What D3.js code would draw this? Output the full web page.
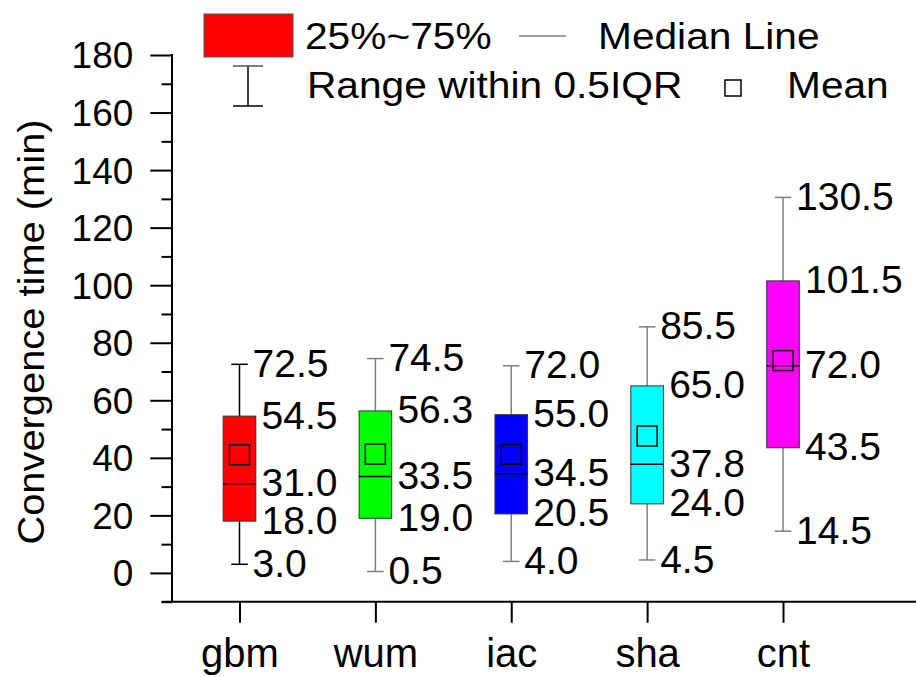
<!DOCTYPE html>
<html>
<head>
<meta charset="utf-8">
<script src="https://cdn.jsdelivr.net/npm/d3@7/dist/d3.min.js"></script>
<style>
  html, body { margin: 0; padding: 0; background: #fff; }
  svg { display: block; }
  text { font-family: "Liberation Sans", Arial, sans-serif; fill: #000; }
</style>
</head>
<body>
<svg id="chart" width="916" height="677"></svg>
<script>
// Convergence time per solution: box statistics (minutes)
const categories = ["gbm", "wum", "iac", "sha", "cnt"];
const mins    = [3.0, 0.5, 4.0, 4.5, 14.5];
const q1s     = [18.0, 19.0, 20.5, 24.0, 43.5];
const medians = [31.0, 33.5, 34.5, 37.8, 72.0];
const q3s     = [54.5, 56.3, 55.0, 65.0, 101.5];
const maxs    = [72.5, 74.5, 72.0, 85.5, 130.5];
const means   = [41.1, 41.3, 41.2, 47.6, 73.8];
const fills   = ["#ff0000", "#00ff00", "#0000ff", "#00ffff", "#ff00ff"];
const whiskerColors = ["#000000", "#808080", "#808080", "#808080", "#808080"];
const yMajorTicks = [0, 20, 40, 60, 80, 100, 120, 140, 160, 180];
const yMinorTicks = [-10, 10, 30, 50, 70, 90, 110, 130, 150, 170];
const yTitle = "Convergence time (min)";
const legendLabels = ["25%~75%", "Median Line", "Range within 0.5IQR", "Mean"];

const svg = d3.select("#chart");
const fmt = d3.format(".1f");

const axisX = 172, axisY = 601.7;
const y = d3.scaleLinear().domain([-10, 180]).range([axisY, 55]);
const x = d3.scalePoint().domain(categories).range([239.5, 783]);

const boxHalf = 16.3, capHalf = 8.3, meanHalf = 10;
const labelSize = 39;

const rows = categories.map((c, i) => ({
  cat: c, min: mins[i], q1: q1s[i], med: medians[i], q3: q3s[i],
  max: maxs[i], mean: means[i], fill: fills[i], wc: whiskerColors[i]
}));

// ---- Y axis ----
const yAxisMinor = d3.axisLeft(y).tickValues(yMinorTicks).tickSize(10.5).tickFormat("");
const gMinor = svg.append("g").attr("transform", `translate(${axisX},0)`).call(yAxisMinor);
gMinor.select(".domain").remove();
gMinor.selectAll("line").attr("stroke", "#000").attr("stroke-width", 2);

const yAxis = d3.axisLeft(y).tickValues(yMajorTicks).tickSize(21.7).tickPadding(17).tickFormat(d3.format("d"));
const gY = svg.append("g").attr("transform", `translate(${axisX},0)`).call(yAxis);
gY.select(".domain").remove();
gY.selectAll("line").attr("stroke", "#000").attr("stroke-width", 2);
gY.selectAll("text").attr("font-size", 37).attr("dy", "0.35em")
  .style("font-family", "'Liberation Sans', Arial, sans-serif");

svg.append("line").attr("x1", axisX).attr("x2", axisX)
  .attr("y1", y(180) - 1).attr("y2", axisY)
  .attr("stroke", "#000").attr("stroke-width", 2);

// ---- X axis ----
const xAxis = d3.axisBottom(x).tickSize(21).tickPadding(0);
const gX = svg.append("g").attr("transform", `translate(0,${axisY})`).call(xAxis);
gX.select(".domain").remove();
gX.selectAll("line").attr("stroke", "#000").attr("stroke-width", 2);
gX.selectAll("text").attr("font-size", 40).attr("y", 65).attr("dy", null)
  .style("font-family", "'Liberation Sans', Arial, sans-serif");

svg.append("line").attr("x1", 161.7).attr("x2", 916)
  .attr("y1", axisY).attr("y2", axisY)
  .attr("stroke", "#000").attr("stroke-width", 2);

// ---- Y title (slightly widened face) ----
svg.append("text")
  .attr("transform", `translate(44,332) rotate(-90) scale(1.107,1)`)
  .attr("text-anchor", "middle")
  .attr("font-size", 36)
  .text(yTitle);

// ---- Boxes ----
const g = svg.append("g");
const box = g.selectAll("g.box").data(rows).join("g").attr("class", "box");

// whiskers
box.append("line")
  .attr("x1", d => x(d.cat)).attr("x2", d => x(d.cat))
  .attr("y1", d => y(d.max)).attr("y2", d => y(d.q3))
  .attr("stroke", d => d.wc).attr("stroke-width", 1.5);
box.append("line")
  .attr("x1", d => x(d.cat)).attr("x2", d => x(d.cat))
  .attr("y1", d => y(d.q1)).attr("y2", d => y(d.min))
  .attr("stroke", d => d.wc).attr("stroke-width", 1.5);
box.append("line")
  .attr("x1", d => x(d.cat) - capHalf).attr("x2", d => x(d.cat) + capHalf)
  .attr("y1", d => y(d.max)).attr("y2", d => y(d.max))
  .attr("stroke", d => d.wc).attr("stroke-width", 1.5);
box.append("line")
  .attr("x1", d => x(d.cat) - capHalf).attr("x2", d => x(d.cat) + capHalf)
  .attr("y1", d => y(d.min)).attr("y2", d => y(d.min))
  .attr("stroke", d => d.wc).attr("stroke-width", 1.5);

// interquartile box
box.append("rect")
  .attr("x", d => x(d.cat) - boxHalf)
  .attr("y", d => y(d.q3))
  .attr("width", boxHalf * 2)
  .attr("height", d => y(d.q1) - y(d.q3))
  .attr("fill", d => d.fill)
  .attr("stroke", "#333").attr("stroke-width", 1);

// median line
box.append("line")
  .attr("x1", d => x(d.cat) - boxHalf).attr("x2", d => x(d.cat) + boxHalf)
  .attr("y1", d => y(d.med)).attr("y2", d => y(d.med))
  .attr("stroke", "#000").attr("stroke-width", 1.5);

// mean marker
box.append("rect")
  .attr("x", d => x(d.cat) - meanHalf)
  .attr("y", d => y(d.mean) - meanHalf)
  .attr("width", meanHalf * 2).attr("height", meanHalf * 2)
  .attr("fill", "none").attr("stroke", "#000").attr("stroke-width", 1.5);

// value labels: whisker ends sit next to the caps, quartiles next to the box
const labelBase = v => y(v) + 0.36 * labelSize - 1.5;
box.each(function(d) {
  const sel = d3.select(this);
  const cx = x(d.cat);
  const items = [
    [d.max, cx + 13], [d.q3, cx + 22], [d.med, cx + 22], [d.q1, cx + 22], [d.min, cx + 13]
  ];
  items.forEach(([v, tx]) => {
    sel.append("text").attr("x", tx).attr("y", labelBase(v))
      .attr("font-size", labelSize).text(fmt(v));
  });
});

// ---- Legend ----
const lg = svg.append("g");
const legendText = (tx, ty, s) =>
  lg.append("text").attr("transform", `translate(${tx},${ty}) scale(1.13,1)`)
    .attr("font-size", 36).text(s);

lg.append("rect").attr("x", 204).attr("y", 14).attr("width", 89).attr("height", 43)
  .attr("fill", fills[0]).attr("stroke", "#555").attr("stroke-width", 1);
legendText(305, 49, legendLabels[0]);
lg.append("line").attr("x1", 519).attr("x2", 566).attr("y1", 36).attr("y2", 36)
  .attr("stroke", "#808080").attr("stroke-width", 1.5);
legendText(598, 49, legendLabels[1]);

lg.append("line").attr("x1", 248).attr("x2", 248).attr("y1", 66).attr("y2", 106)
  .attr("stroke", "#000").attr("stroke-width", 1.5);
lg.append("line").attr("x1", 233).attr("x2", 263).attr("y1", 66).attr("y2", 66)
  .attr("stroke", "#555").attr("stroke-width", 1.5);
lg.append("line").attr("x1", 233).attr("x2", 263).attr("y1", 106).attr("y2", 106)
  .attr("stroke", "#000").attr("stroke-width", 1.5);
legendText(307, 98, legendLabels[2]);
lg.append("rect").attr("x", 725).attr("y", 80).attr("width", 16).attr("height", 16)
  .attr("fill", "none").attr("stroke", "#000").attr("stroke-width", 1.5);
legendText(787, 98, legendLabels[3]);
</script>
</body>
</html>
